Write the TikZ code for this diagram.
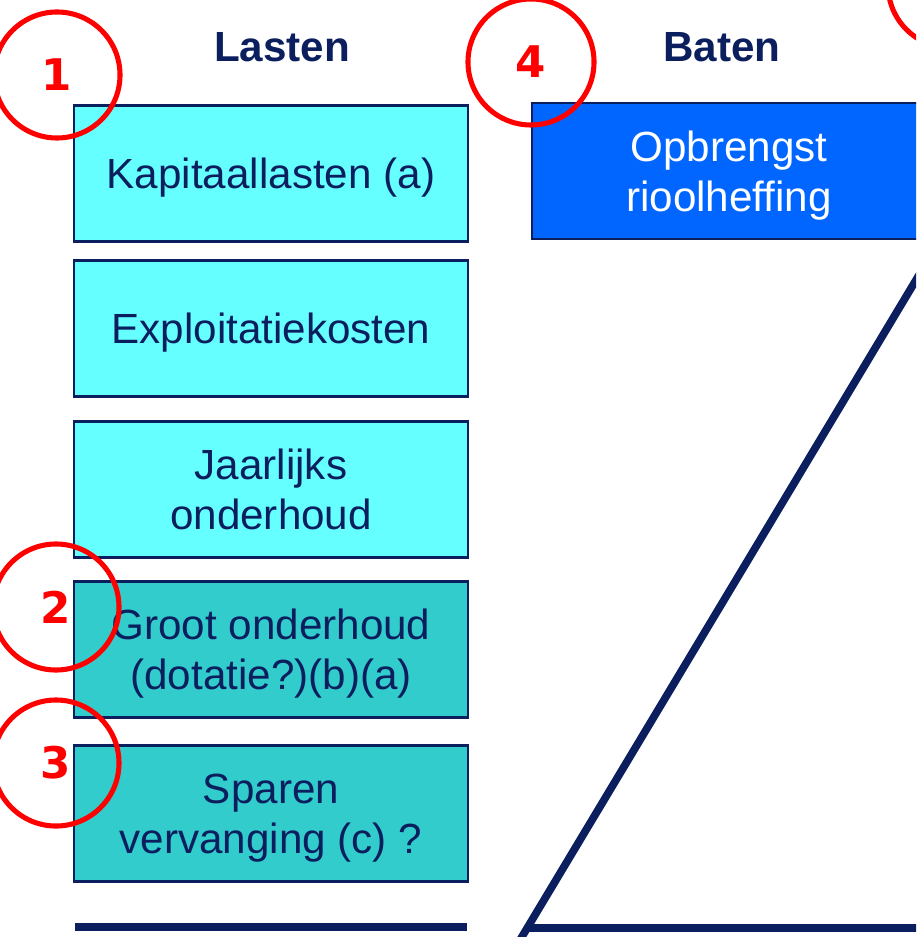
\documentclass[tikz,border=0pt]{standalone}
\usepackage{fontspec}
\setmainfont{Liberation Sans}
\newfontfamily\numfont{DejaVu Sans}
\definecolor{donker}{RGB}{11,31,94}
\definecolor{licht}{RGB}{102,255,255}
\definecolor{groen}{RGB}{51,204,204}
\definecolor{helder}{RGB}{0,102,255}

\begin{document}
\begin{tikzpicture}[x=0.025cm,y=-0.025cm,
    kop/.style={text=donker,font=\fontsize{30}{36}\selectfont\bfseries},
    post/.style={draw=donker,line width=2pt,minimum width=9.85cm,minimum height=3.4cm,
        inner sep=0pt,text depth=0pt,align=center,text=donker,font=\fontsize{30}{35.5}\selectfont},
    ring/.style={circle,draw=red,line width=3.6pt,minimum size=3.15cm,inner sep=0pt,
        text=red,font=\numfont\bfseries\fontsize{31}{31}\selectfont},
    streep/.style={donker,line width=5.5pt}]
    \useasboundingbox (0,0) rectangle (916,937);
    \clip (0,0) rectangle (916,937);
    %\draw[very thin,color=gray] (0,0) grid[step=50] (916,937);

    \node[kop] (lasten) at (282,47) {Lasten};
    \node[kop] (baten) at (722,47) {Baten};

    \node[post,fill=licht] (kapitaal) at (271,173.5) {Kapitaallasten (a)};
    \node[post,fill=licht] (exploitatie) at (271,328.5) {Exploitatiekosten};
    \node[post,fill=licht] (jaarlijks) at (271,489.5) {Jaarlijks\\onderhoud};
    \node[post,fill=groen] (groot) at (271,649.5) {Groot onderhoud\\(dotatie?)(b)(a)};
    \node[post,fill=groen] (sparen) at (271,813.5) {Sparen\\vervanging (c) ?};
    \node[post,fill=helder,text=white] (heffing) at (729,171) {Opbrengst\\rioolheffing};

    \draw[streep] (75,927) -- (467,927);
    \draw[streep] (1090,-10) -- (514,950);
    \draw[streep] (527,928) -- (930,928);

    \node[ring] (een) at (57,75) {1};
    \node[ring] (twee) at (56,607) {2};
    \node[ring] (drie) at (56,763) {3};
    \node[ring] (vier) at (531,62) {4};
    \node[ring] (vijf) at (951,-15) {};

\end{tikzpicture}
\end{document}
